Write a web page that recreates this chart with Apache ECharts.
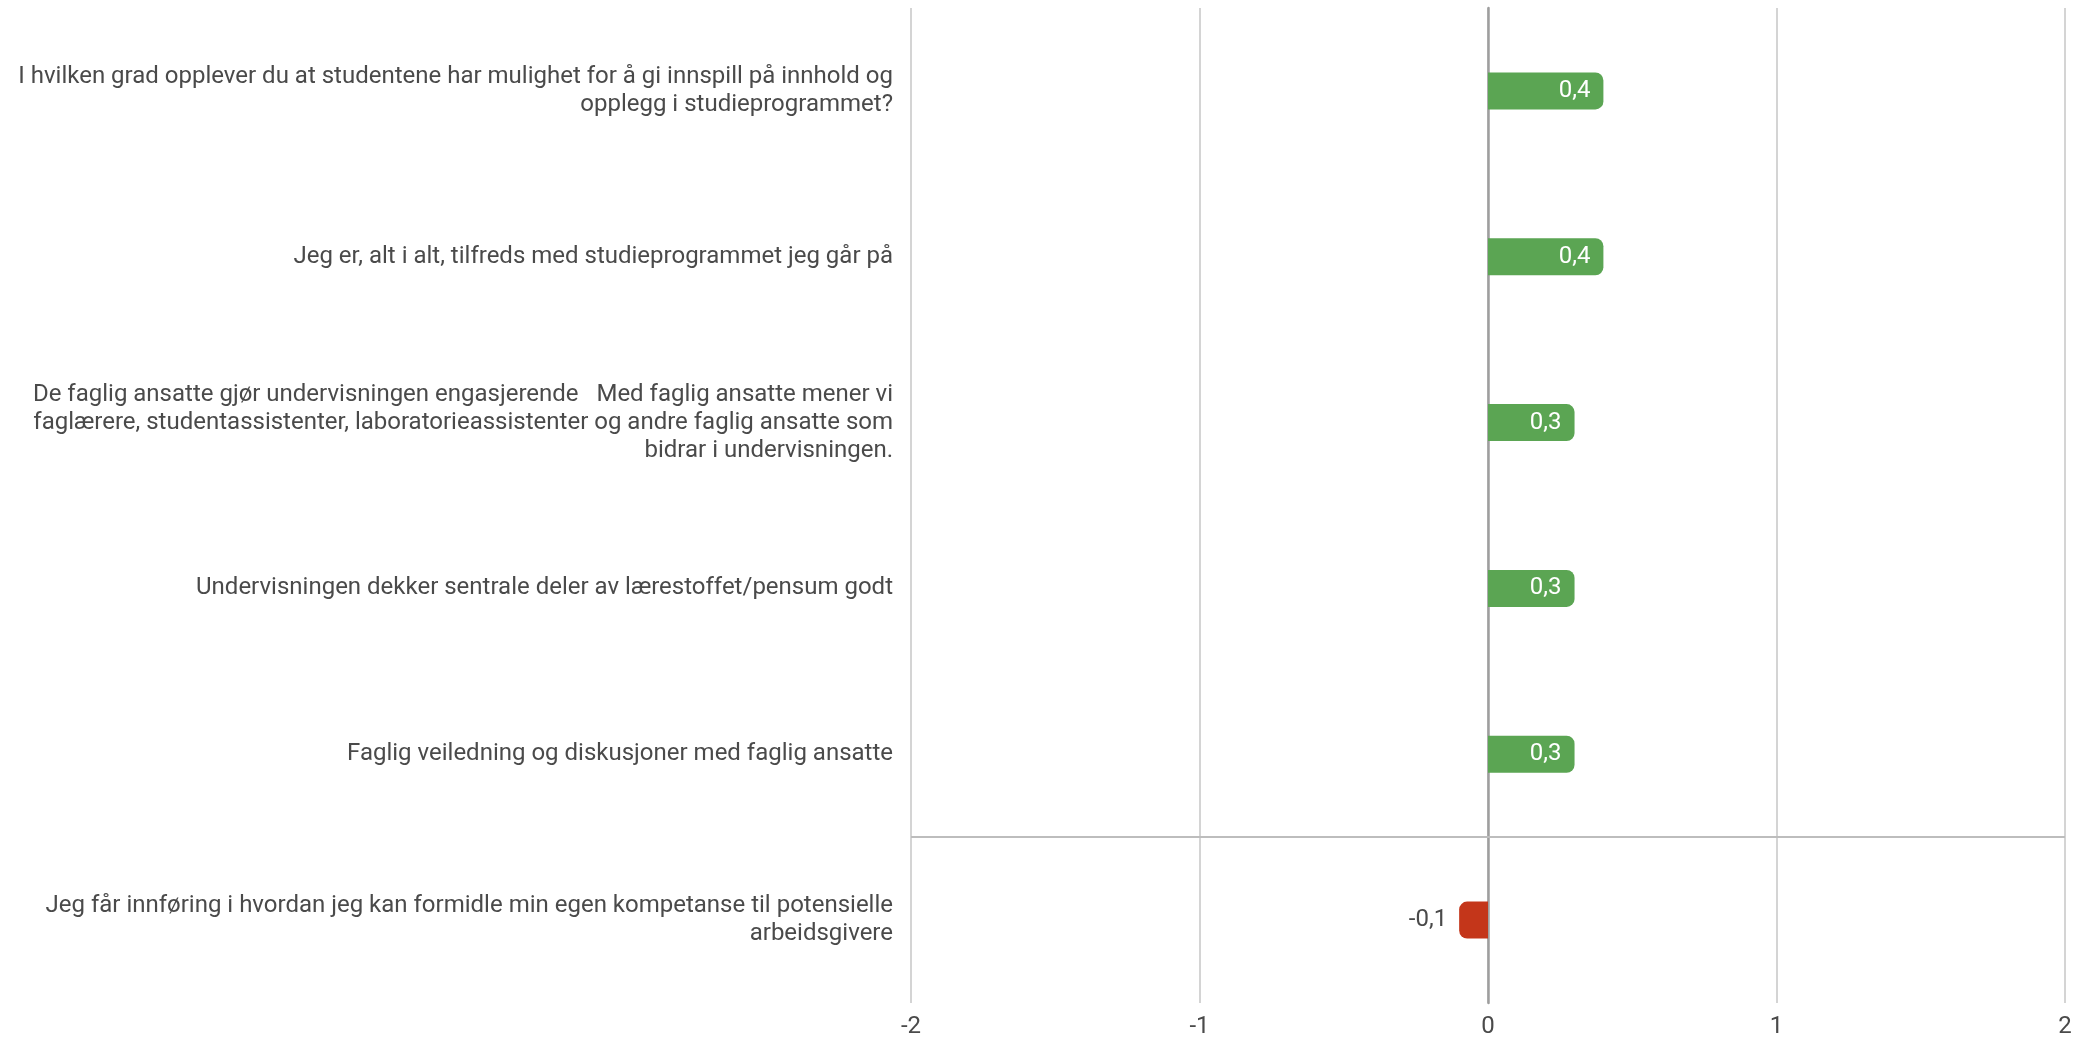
<!DOCTYPE html>
<html><head><meta charset="utf-8">
<script src="https://cdn.jsdelivr.net/npm/echarts@6/dist/echarts.min.js"></script>
<style>html,body{margin:0;padding:0;background:#fff}#c{width:2080px;height:1039px}</style>
</head><body><div id="c"></div>
<script>
const categories = [
  "I hvilken grad opplever du at studentene har mulighet for å gi innspill på innhold og\nopplegg i studieprogrammet?",
  "Jeg er, alt i alt, tilfreds med studieprogrammet jeg går på",
  "De faglig ansatte gjør undervisningen engasjerende   Med faglig ansatte mener vi\nfaglærere, studentassistenter, laboratorieassistenter og andre faglig ansatte som\nbidrar i undervisningen.",
  "Undervisningen dekker sentrale deler av lærestoffet/pensum godt",
  "Faglig veiledning og diskusjoner med faglig ansatte",
  "Jeg får innføring i hvordan jeg kan formidle min egen kompetanse til potensielle\narbeidsgivere"
];
const values = [0.4, 0.4, 0.3, 0.3, 0.3, -0.1];
const xTicks = [-2, -1, 0, 1, 2];
const separatorAfter = 5; // horizontal rule drawn after the 5th category

const GREEN = '#5ba553', RED = '#c4361a', TEXT = '#4a4a4a';
const fmt = v => String(v).replace('.', ',');

const chart = echarts.init(document.getElementById('c'));
chart.setOption({
  animation: false,
  textStyle: { fontFamily: 'Roboto' },
  grid: { left: 911, right: 15, top: 8, bottom: 32, containLabel: false },
  xAxis: {
    type: 'value', min: xTicks[0], max: xTicks[xTicks.length - 1], interval: 1,
    axisLine: { show: false }, axisTick: { show: false },
    axisLabel: { color: TEXT, fontSize: 24, margin: 12, formatter: v => fmt(v) },
    splitLine: { lineStyle: { color: '#c6c6c6', width: 1.5 } }
  },
  yAxis: [{
    type: 'category', data: categories, inverse: true,
    axisLine: { onZero: true, lineStyle: { color: '#9e9e9e', width: 2.5 } },
    axisTick: { show: false },
    axisLabel: { color: TEXT, fontSize: 24, lineHeight: 28, margin: 18, align: 'right', padding: [4, 0, 0, 0] },
    splitLine: { show: false }
  }, {
    type: 'value', min: 0, max: categories.length, inverse: true, show: false,
    splitLine: { show: false }
  }],
  series: [{
    type: 'bar', barWidth: 37,
    data: values.map(v => ({
      value: v,
      itemStyle: { color: v >= 0 ? GREEN : RED, borderRadius: v >= 0 ? [0, 8, 8, 0] : [8, 0, 0, 8] },
      label: v >= 0
        ? { show: true, position: 'insideRight', color: '#fff', fontSize: 24, distance: 13, formatter: p => fmt(p.value) }
        : { show: true, position: 'left', color: TEXT, fontSize: 24, distance: 12, formatter: p => fmt(p.value) }
    }))
  }, {
    type: 'line', yAxisIndex: 1, data: [[0, separatorAfter]], showSymbol: false, symbolSize: 0,
    lineStyle: { opacity: 0 }, silent: true,
    markLine: {
      silent: true, symbol: 'none', label: { show: false },
      lineStyle: { color: '#bdbdbd', width: 2, type: 'solid' },
      data: [{ yAxis: separatorAfter }]
    }
  }]
});
</script></body></html>
